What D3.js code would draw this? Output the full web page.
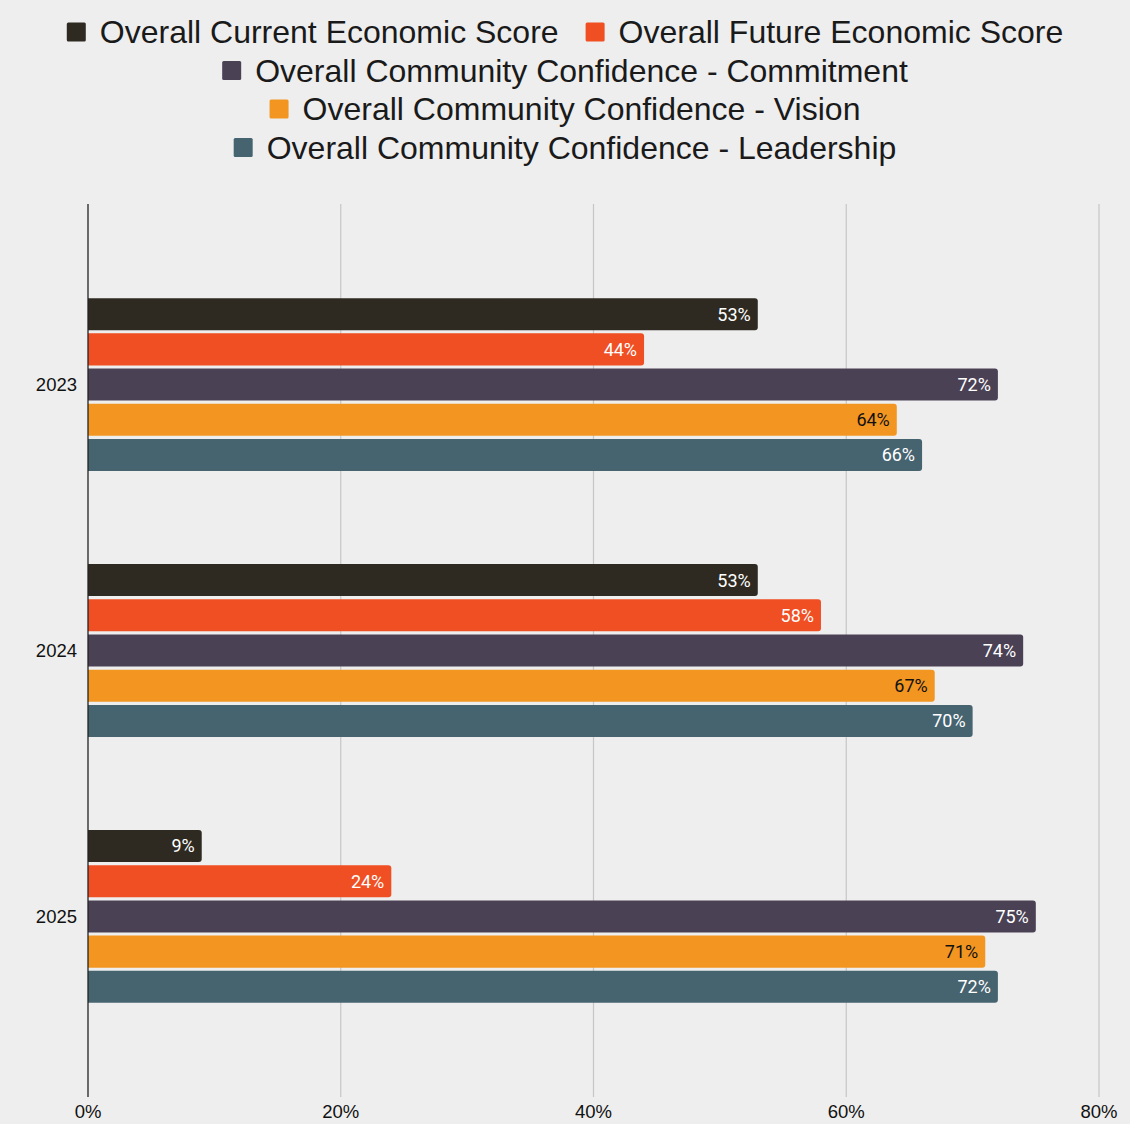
<!DOCTYPE html>
<html>
<head>
<meta charset="utf-8">
<script src="https://cdn.jsdelivr.net/npm/d3@7"></script>
<style>
  html, body { margin: 0; padding: 0; background: #eeeeee; }
  svg { display: block; }
</style>
</head>
<body>
<svg id="chart" width="1130" height="1124"></svg>
<script>
// Survey scores by year, one array per series (percent)
const years = ["2023", "2024", "2025"];
const seriesNames = [
  "Overall Current Economic Score",
  "Overall Future Economic Score",
  "Overall Community Confidence - Commitment",
  "Overall Community Confidence - Vision",
  "Overall Community Confidence - Leadership"
];
const currentEconomic = [53, 53, 9];
const futureEconomic = [44, 58, 24];
const commitment = [72, 74, 75];
const vision = [64, 67, 71];
const leadership = [66, 70, 72];
const xTicks = [0, 20, 40, 60, 80];

const seriesValues = [currentEconomic, futureEconomic, commitment, vision, leadership];
const colors = ["#2e2a22", "#f04e23", "#4a4155", "#f39621", "#466370"];
const labelColors = ["#ffffff", "#ffffff", "#ffffff", "#111111", "#ffffff"];

const SANS = "'Liberation Sans', Arial, Helvetica, sans-serif";
const W = 1130, H = 1124;
const svg = d3.select("#chart");
svg.append("rect").attr("width", W).attr("height", H).attr("fill", "#eeeeee");

const plot = { left: 88, right: 1099, top: 204, bottom: 1097 };

const x = d3.scaleLinear().domain([0, 80]).range([plot.left, plot.right]);
const y = d3.scaleBand().domain(years).range([plot.top, plot.bottom])
  .paddingInner(0.35).paddingOuter(0.354);
const ySub = d3.scaleBand().domain(d3.range(seriesNames.length))
  .range([0, y.bandwidth()]).paddingInner(0.09);

// Gridlines
const grid = svg.append("g");
grid.selectAll("line").data(xTicks.filter(t => t > 0)).join("line")
  .attr("x1", d => x(d)).attr("x2", d => x(d))
  .attr("y1", plot.top).attr("y2", plot.bottom)
  .attr("stroke", "#c6c6c6").attr("stroke-width", 1.2);

// Bars with rounded right-hand corners
function barPath(x0, y0, w, h, r) {
  r = Math.min(r, w, h / 2);
  return `M${x0},${y0}H${x0 + w - r}Q${x0 + w},${y0} ${x0 + w},${y0 + r}` +
         `V${y0 + h - r}Q${x0 + w},${y0 + h} ${x0 + w - r},${y0 + h}H${x0}Z`;
}

const groups = svg.append("g").selectAll("g").data(years).join("g")
  .attr("transform", d => `translate(0,${y(d)})`);

groups.each(function(year, yi) {
  const g = d3.select(this);
  const rows = seriesValues.map((vals, si) => ({ si, v: vals[yi] }));
  g.selectAll("path").data(rows).join("path")
    .attr("d", d => barPath(x(0), ySub(d.si), x(d.v) - x(0), ySub.bandwidth(), 3))
    .attr("fill", d => colors[d.si]);
  g.selectAll("text").data(rows).join("text")
    .attr("x", d => x(d.v) - 7)
    .attr("y", d => ySub(d.si) + ySub.bandwidth() / 2)
    .attr("dy", "0.36em")
    .attr("text-anchor", "end")
    .attr("font-family", "Roboto, 'Noto Sans', sans-serif")
    .attr("font-size", 18)
    .attr("font-weight", 400)
    .attr("fill", d => labelColors[d.si])
    .text(d => d.v + "%");
});

// Category labels
svg.append("g").selectAll("text").data(years).join("text")
  .attr("x", 77)
  .attr("y", d => y(d) + y.bandwidth() / 2)
  .attr("dy", "0.36em")
  .attr("text-anchor", "end")
  .attr("font-family", SANS)
  .attr("font-size", 18.5)
  .attr("fill", "#111")
  .text(d => d);

// Baseline axis
svg.append("line")
  .attr("x1", x(0)).attr("x2", x(0))
  .attr("y1", plot.top).attr("y2", plot.bottom)
  .attr("stroke", "#222").attr("stroke-width", 1.3);

// X tick labels
svg.append("g").selectAll("text").data(xTicks).join("text")
  .attr("x", d => x(d))
  .attr("y", 1118)
  .attr("text-anchor", "middle")
  .attr("font-family", SANS)
  .attr("font-size", 18.5)
  .attr("fill", "#111")
  .text(d => d + "%");

// Legend: centered rows, wrapped to a max width
const legendFont = 32, sw = 19, swGap = 14, itemGap = 27, maxRow = 1080;
const legend = svg.append("g");
const measure = legend.append("text")
  .attr("font-family", SANS)
  .attr("font-size", legendFont);
const items = seriesNames.map((name, i) => {
  measure.text(name);
  const tw = measure.node().getComputedTextLength();
  return { name, i, w: sw + swGap + tw };
});
measure.remove();

const rowsL = [];
let cur = [], curW = 0;
items.forEach(it => {
  const add = cur.length ? itemGap + it.w : it.w;
  if (cur.length && curW + add > maxRow) { rowsL.push({ items: cur, w: curW }); cur = [it]; curW = it.w; }
  else { cur.push(it); curW += add; }
});
if (cur.length) rowsL.push({ items: cur, w: curW });

rowsL.forEach((row, ri) => {
  const cy = 32 + ri * 38.5;
  let cx = W / 2 - row.w / 2;
  row.items.forEach(it => {
    legend.append("rect")
      .attr("x", cx).attr("y", cy - sw / 2).attr("width", sw).attr("height", sw)
      .attr("rx", 1.5).attr("fill", colors[it.i]);
    legend.append("text")
      .attr("x", cx + sw + swGap).attr("y", cy).attr("dy", "0.35em")
      .attr("font-family", SANS)
      .attr("font-size", legendFont).attr("fill", "#1a1a1a")
      .text(it.name);
    cx += it.w + itemGap;
  });
});
</script>
</body>
</html>
